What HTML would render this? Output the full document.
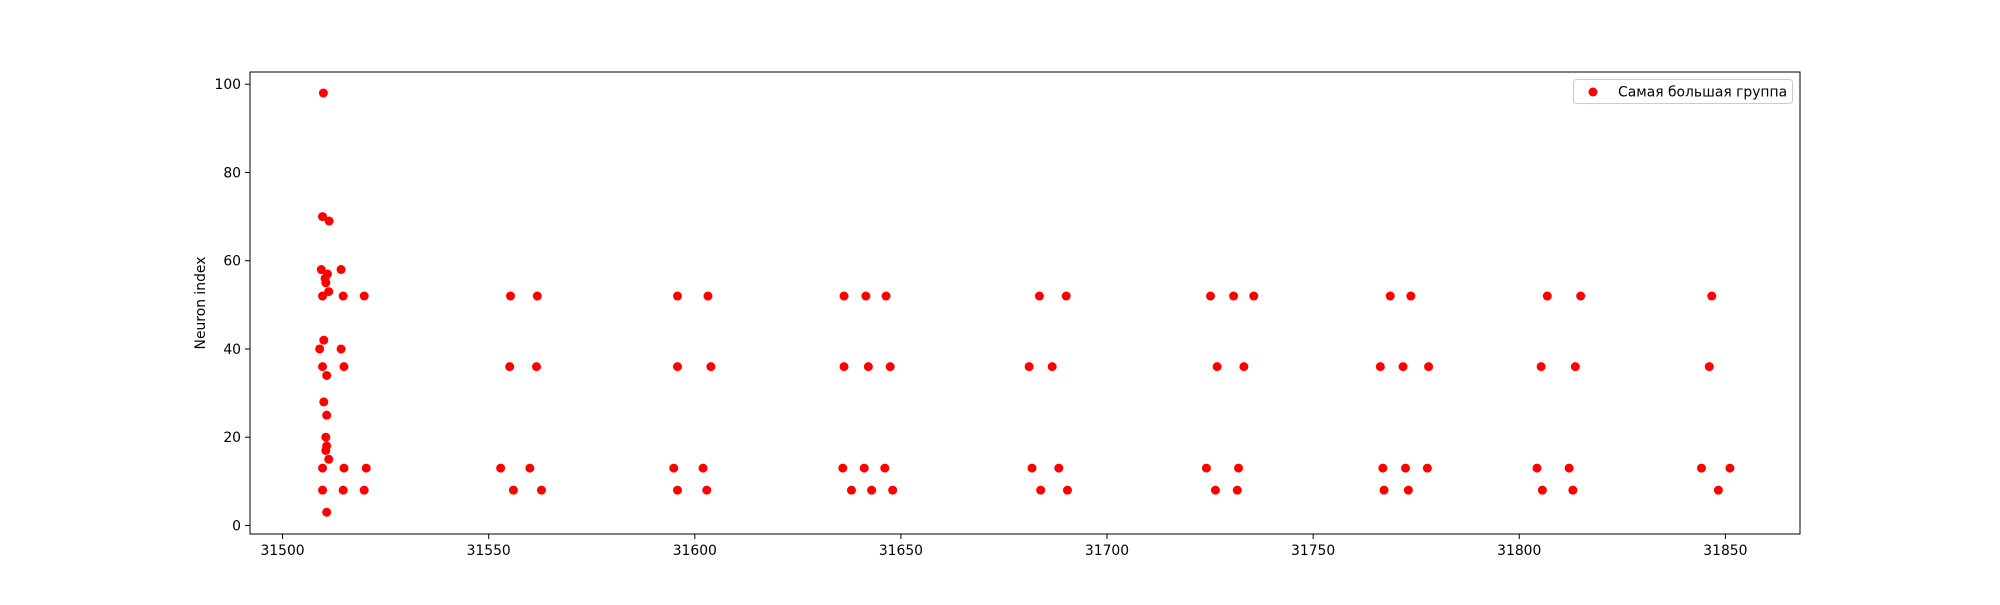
<!DOCTYPE html>
<html><head><meta charset="utf-8"><style>
body{margin:0;background:#fff;}
svg text{font-family:"DejaVu Sans","Liberation Sans",sans-serif;fill:#000;}
</style></head><body>
<svg id="chart" width="2000" height="600" xmlns="http://www.w3.org/2000/svg">
<rect x="0" y="0" width="2000" height="600" fill="#fff"/>
<g id="marks"></g>
<g id="axes"></g>
<text transform="translate(205,303) rotate(-90)" text-anchor="middle" font-size="13.9">Neuron index</text>
<g>
<rect x="1573.5" y="79.5" width="219" height="24" rx="3" fill="#fff" stroke="#ccc" stroke-width="1"/>
<circle cx="1593" cy="92" r="4.5" fill="#ff0000"/>
<text x="1618" y="96.5" font-size="13.9">Самая большая группа</text>
</g>
</svg>
<script>
const xs = [31509.9,31509.7,31511.3,31509.4,31510.9,31510.3,31510.5,31511.2,31509.7,31514.2,31514.7,31519.8,
31510.0,31509.0,31514.2,31509.7,31514.9,31510.7,31510.0,31510.7,31510.5,31510.7,31510.5,31511.2,
31509.7,31514.9,31520.3,31509.7,31514.7,31519.8,31510.7,
31555.3,31561.8,31555.1,31561.6,31552.9,31560.0,31556.0,31562.8,
31595.8,31603.2,31595.8,31603.9,31594.9,31602.0,31595.8,31602.9,
31636.2,31641.5,31646.4,31636.2,31642.1,31647.4,31635.9,31641.1,31646.1,31638.0,31642.9,31648.0,
31683.6,31690.1,31681.1,31686.7,31681.8,31688.3,31683.9,31690.4,
31725.1,31730.7,31735.6,31726.7,31733.2,31724.1,31731.9,31726.3,31731.6,
31768.7,31773.7,31766.3,31771.8,31778.0,31766.9,31772.4,31777.7,31767.2,31773.1,
31806.8,31814.9,31805.3,31813.6,31804.3,31812.1,31805.6,31813.0,
31846.7,31846.1,31844.2,31851.1,31848.3];
const ys = [98,70,69,58,57,56,55,53,52,58,52,52,
42,40,40,36,36,34,28,25,20,18,17,15,
13,13,13,8,8,8,3,
52,52,36,36,13,13,8,8,
52,52,36,36,13,13,8,8,
52,52,52,36,36,36,13,13,13,8,8,8,
52,52,36,36,13,13,8,8,
52,52,52,36,36,13,13,8,8,
52,52,36,36,36,13,13,13,8,8,
52,52,36,36,13,13,8,8,
52,36,13,13,8];
const xTicks = [31500,31550,31600,31650,31700,31750,31800,31850];
const yTicks = [0,20,40,60,80,100];
const X0=250,X1=1800,Y0=534,Y1=72;
const xmin=31492.1,xmax=31868.1,ymin=-1.93,ymax=102.77;
function sx(v){return X0+(v-xmin)/(xmax-xmin)*(X1-X0);}
function sy(v){return Y0-(v-ymin)/(ymax-ymin)*(Y0-Y1);}
const NS="http://www.w3.org/2000/svg";
const marks=document.getElementById('marks');
for(let i=0;i<xs.length;i++){
  const c=document.createElementNS(NS,'circle');
  c.setAttribute('cx',sx(xs[i]));c.setAttribute('cy',sy(ys[i]));c.setAttribute('r',4.5);c.setAttribute('fill','#ff0000');
  
  
  marks.appendChild(c);
}
const axes=document.getElementById('axes');
const fr=document.createElementNS(NS,'rect');
fr.setAttribute('x',X0);fr.setAttribute('y',Y1);fr.setAttribute('width',X1-X0);fr.setAttribute('height',Y0-Y1);
fr.setAttribute('fill','none');fr.setAttribute('stroke','#000');fr.setAttribute('stroke-width','1');


axes.appendChild(fr);
xTicks.forEach(t=>{
  const x=sx(t);
  const l=document.createElementNS(NS,'line');
  l.setAttribute('x1',x);l.setAttribute('x2',x);l.setAttribute('y1',Y0);l.setAttribute('y2',Y0+5);l.setAttribute('stroke','#000');
  
  
  axes.appendChild(l);
  const tx=document.createElementNS(NS,'text');
  tx.setAttribute('x',x);tx.setAttribute('y',Y0+21);tx.setAttribute('text-anchor','middle');tx.setAttribute('font-size','13.9');
  tx.textContent=t;
  
  
  axes.appendChild(tx);
});
yTicks.forEach(t=>{
  const y=sy(t);
  const l=document.createElementNS(NS,'line');
  l.setAttribute('x1',X0-5);l.setAttribute('x2',X0);l.setAttribute('y1',y);l.setAttribute('y2',y);l.setAttribute('stroke','#000');
  
  
  axes.appendChild(l);
  const tx=document.createElementNS(NS,'text');
  tx.setAttribute('x',X0-9);tx.setAttribute('y',y+5);tx.setAttribute('text-anchor','end');tx.setAttribute('font-size','13.9');
  tx.textContent=t;
  
  
  axes.appendChild(tx);
});
</script>
</body></html>
